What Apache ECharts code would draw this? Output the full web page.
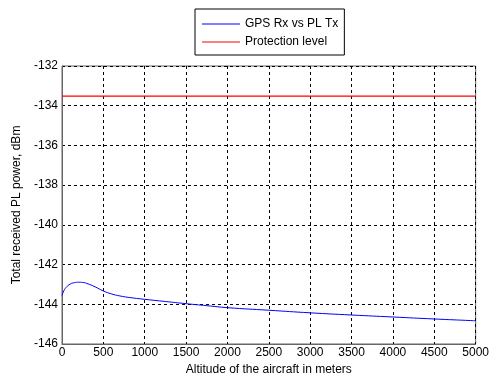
<!DOCTYPE html>
<html><head><meta charset="utf-8">
<script src="https://cdn.jsdelivr.net/npm/echarts@6/dist/echarts.min.js"></script>
<style>html,body{margin:0;padding:0;background:#fff}#c{width:492px;height:381px}</style>
</head><body><div id="c"></div>
<script>
const altitude = [0,25,50,100,150,200,250,300,400,500,600,700,800,1000,1250,1500,1750,2000,2500,3000,3500,4000,4500,5000];
const gpsRx = [-143.55,-143.3,-143.15,-142.98,-142.91,-142.89,-142.9,-142.95,-143.12,-143.33,-143.48,-143.58,-143.65,-143.75,-143.86,-143.97,-144.07,-144.17,-144.3,-144.43,-144.54,-144.64,-144.74,-144.83];
const protectionX = [0,5000];
const protectionLevel = [-133.52,-133.52];
const seriesNames = ['GPS Rx vs PL Tx','Protection level'];
const FONT = 'Liberation Sans, Arial, sans-serif';
const chart = echarts.init(document.getElementById('c'), null, {renderer:'canvas'});
chart.setOption({
  animation:false,
  backgroundColor:'#fff',
  legend:{
    data:seriesNames.map(n=>({name:n,icon:'rect'})), orient:'vertical', left:195, top:9, width:154,
    itemWidth:38, itemHeight:1, itemGap:4, padding:[8,6,6,7],
    borderColor:'#000', borderWidth:1, backgroundColor:'#fff',
    textStyle:{fontFamily:FONT,fontSize:12,color:'#000',lineHeight:14}
  },
  grid:{left:62,right:12,top:66,bottom:29,show:true,borderColor:'#666',borderWidth:1},
  xAxis:{
    type:'value', min:0, max:5000, interval:500,
    name:'Altitude of the aircraft in meters', nameLocation:'middle', nameGap:20,
    nameTextStyle:{fontFamily:FONT,fontSize:12,color:'#000'},
    axisLine:{lineStyle:{color:'#666'}}, axisTick:{show:false},
    axisLabel:{fontFamily:FONT,fontSize:12,color:'#000',margin:3,formatter:v=>String(v)},
    splitLine:{lineStyle:{color:'#000',type:[3,3],width:1}}
  },
  yAxis:{
    type:'value', min:-146, max:-132, interval:2,
    name:'Total received PL power, dBm', nameLocation:'middle', nameGap:29,
    nameTextStyle:{fontFamily:FONT,fontSize:12,color:'#000'},
    axisLine:{show:true,lineStyle:{color:'#666'}}, axisTick:{show:false},
    axisLabel:{fontFamily:FONT,fontSize:12,color:'#000',margin:4,formatter:v=>String(v)},
    splitLine:{lineStyle:{color:'#000',type:[3,3],width:1}}
  },
  series:[
    {name:seriesNames[0],type:'line',symbol:'none',smooth:true,
     data:altitude.map((a,i)=>[a,gpsRx[i]]),lineStyle:{color:'#0000ff',width:1},itemStyle:{color:'#0000ff'}},
    {name:seriesNames[1],type:'line',symbol:'none',
     data:protectionX.map((a,i)=>[a,protectionLevel[i]]),lineStyle:{color:'#ff0000',width:1.3},itemStyle:{color:'#ff0000'}}
  ]
});
</script></body></html>
